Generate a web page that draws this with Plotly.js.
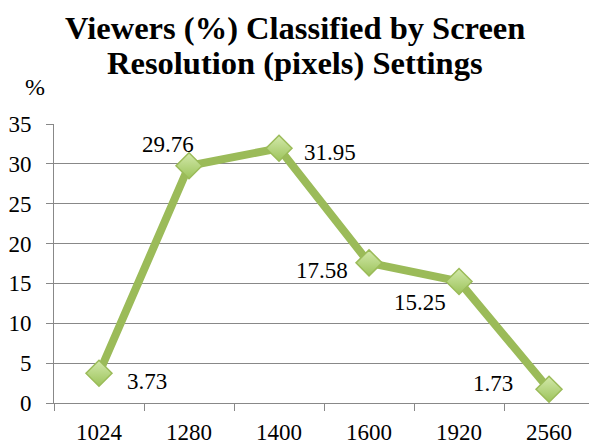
<!DOCTYPE html>
<html>
<head>
<meta charset="utf-8">
<script src="https://cdn.plot.ly/plotly-3.0.1.min.js"></script>
<style>html,body{margin:0;padding:0;background:#fff;}#chart{width:590px;height:447px;}</style>
</head>
<body>
<div id="chart"></div>
<script>
const categories = ["1024", "1280", "1400", "1600", "1920", "2560"];
const viewers = [3.73, 29.76, 31.95, 17.58, 15.25, 1.73];
const labelText = ["3.73", "29.76", "31.95", "17.58", "15.25", "1.73"];
const labelShiftX = [48, -21, 51, -47, -39, -56];
const labelShiftY = [-8, 21, -4, -8, -21, 6];
const yTicks = [0, 5, 10, 15, 20, 25, 30, 35];
const titleLines = ["Viewers (%) Classified by Screen", "Resolution (pixels) Settings"];

const serif = "Liberation Serif";
const trace = {
  x: categories,
  y: viewers,
  type: "scatter",
  mode: "lines+markers",
  line: {color: "#9BBB59", width: 8},
  marker: {
    symbol: "diamond",
    size: 20,
    color: "#d3e9ab",
    gradient: {type: "vertical", color: "#9cc35a"},
    line: {color: "#9BBB59", width: 1.5}
  },
  hoverinfo: "none"
};

const H = 279; // plot height px
const annotations = categories.map((c, i) => ({
  x: i, y: viewers[i], xref: "x", yref: "y",
  text: labelText[i], showarrow: false,
  xshift: labelShiftX[i], yshift: labelShiftY[i],
  font: {family: serif, size: 23, color: "#000"}
}));
annotations.push({
  xref: "paper", yref: "paper", x: (35 - 54) / 535, y: 1 + (124 - 87) / H,
  text: "%", showarrow: false, xanchor: "center", yanchor: "middle",
  font: {family: serif, size: 24, color: "#000"}
});
titleLines.forEach((t, k) => {
  annotations.push({
    xref: "paper", yref: "paper", x: (295 - 54) / 535, y: 1 + (124 - (28 + 35 * k)) / H,
    text: "<b>" + t + "</b>", showarrow: false, xanchor: "center", yanchor: "middle",
    font: {family: serif, size: 32.5, color: "#000"}
  });
});

const layout = {
  width: 590, height: 447,
  margin: {l: 54, r: 1, t: 124, b: 44},
  paper_bgcolor: "#fff", plot_bgcolor: "#fff",
  showlegend: false,
  xaxis: {
    type: "category", range: [-0.5, 5.444], tickson: "boundaries",
    ticks: "outside", ticklen: 7, tickcolor: "#888", tickwidth: 1,
    showline: true, linecolor: "#888", linewidth: 1, showgrid: false,
    ticklabelstandoff: 8,
    tickfont: {family: serif, size: 23, color: "#000"}, fixedrange: true
  },
  yaxis: {
    range: [0, 35], tickvals: yTicks, ticks: "outside", ticklen: 7,
    tickcolor: "#888", showline: true, linecolor: "#888", linewidth: 1,
    showgrid: true, gridcolor: "#888", gridwidth: 1, zeroline: false,
    ticklabelstandoff: 10,
    tickfont: {family: serif, size: 23, color: "#000"}, fixedrange: true
  },
  annotations: annotations
};

Plotly.newPlot("chart", [trace], layout, {displayModeBar: false, staticPlot: true});
</script>
</body>
</html>
